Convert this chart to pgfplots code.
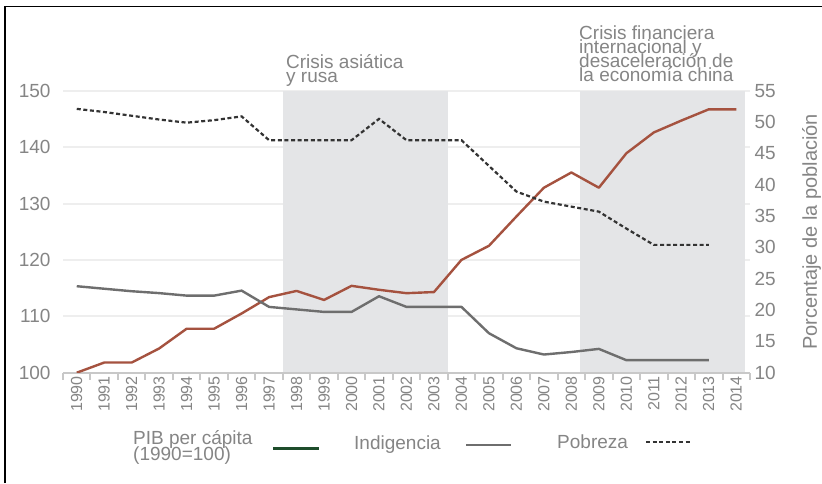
\documentclass[border=0pt]{standalone}
\usepackage{pgfplots}
\pgfplotsset{compat=1.18}
\usepackage{fontspec}
\setmainfont{Liberation Sans}
\definecolor{pibred}{HTML}{A5523F}
\definecolor{indgray}{HTML}{6E6E6E}
\definecolor{pobdark}{HTML}{333333}
\definecolor{shade}{HTML}{E4E5E7}
\definecolor{gridgray}{HTML}{EEEEEE}
\definecolor{axisgray}{HTML}{C8C8C8}
\definecolor{txtgray}{HTML}{858585}
\definecolor{leggreen}{HTML}{1E4D2B}
\newcommand\bigfont{\fontsize{19}{19}\selectfont}
\newcommand\yearfont{\fontsize{16}{16}\selectfont}

\pgfplotstableread{
year pib
1990 100
1991 101.8
1992 101.8
1993 104.3
1994 107.8
1995 107.8
1996 110.5
1997 113.4
1998 114.5
1999 112.9
2000 115.4
2001 114.7
2002 114.1
2003 114.3
2004 120.0
2005 122.5
2006 127.7
2007 132.8
2008 135.5
2009 132.8
2010 138.9
2011 142.6
2012 144.7
2013 146.7
2014 146.7
}\pibtable

\pgfplotstableread{
year ind pob
1990 23.8 52.1
1991 23.4 51.6
1992 23.0 51.0
1993 22.7 50.4
1994 22.3 49.9
1995 22.3 50.3
1996 23.1 50.9
1997 20.5 47.1
1998 20.1 47.1
1999 19.7 47.1
2000 19.7 47.1
2001 22.2 50.5
2002 20.5 47.1
2003 20.5 47.1
2004 20.5 47.1
2005 16.3 43.0
2006 13.9 38.9
2007 12.9 37.3
2008 13.3 36.5
2009 13.8 35.7
2010 12.0 33.0
2011 12.0 30.4
2012 12.0 30.4
2013 12.0 30.4
}\pcttable

\begin{document}
\begin{tikzpicture}
\useasboundingbox (0,0) rectangle (822pt,483pt);
\fill[white] (0,0) rectangle (822pt,483pt);
\draw[black, line width=1.5pt] (5pt,0) -- (5pt,476.5pt) -- (822pt,476.5pt);

\begin{axis}[
  at={(63pt,110.3pt)}, anchor=south west,
  scale only axis, width=687pt, height=282pt,
  xmin=1989.5, xmax=2014.5, ymin=100, ymax=150,
  axis x line*=bottom, axis y line*=left,
  axis line style={-},
  x axis line style={draw=axisgray, line width=2pt},
  y axis line style={draw=none},
  xtick={1990,...,2014},
  xticklabels={1990,1991,1992,1993,1994,1995,1996,1997,1998,1999,2000,2001,2002,2003,2004,2005,2006,2007,2008,2009,2010,2011,2012,2013,2014},
  minor xtick={1989.5,1990.5,...,2014.5},
  major tick length=0pt, minor tick length=7pt, tick align=outside,
  xtick style={draw=axisgray, line width=2pt},
  ytick={100,110,...,150},
  ytick style={draw=none},
  ymajorgrids, grid style={draw=gridgray, line width=2pt},
  /pgf/number format/assume math mode=true,
  xticklabel style={rotate=90, anchor=east, font=\yearfont, text=txtgray},
  yticklabel style={font=\bigfont, text=txtgray, xshift=-9pt},
  clip=true,
]
\addplot[fill=shade, draw=none, forget plot] coordinates {(1997.5,100.18) (2003.5,100.18) (2003.5,150) (1997.5,150)} -- cycle;
\addplot[fill=shade, draw=none, forget plot] coordinates {(2008.3,100.18) (2014.3,100.18) (2014.3,150) (2008.3,150)} -- cycle;
\addplot[pibred, line width=2.4pt, line join=round] table[x=year, y=pib] {\pibtable};
\end{axis}

\begin{axis}[
  at={(63pt,110.3pt)}, anchor=south west,
  scale only axis, width=687pt, height=282pt,
  xmin=1989.5, xmax=2014.5, ymin=10, ymax=55,
  axis x line=none, axis y line*=right,
  axis line style={draw=none},
  ytick={10,15,...,55},
  ytick style={draw=none},
  /pgf/number format/assume math mode=true,
  yticklabel style={font=\bigfont, text=txtgray, xshift=1pt},
  every axis y label/.style={at={(rel axis cs:1,0.5)}, xshift=61.5pt, rotate=90, anchor=center, font=\fontsize{20}{20}\selectfont, text=txtgray},
  ylabel={Porcentaje de la población},
]
\addplot[indgray, line width=2.4pt, line join=round] table[x=year, y=ind] {\pcttable};
\addplot[pobdark, line width=2.2pt, dash pattern=on 4pt off 2.6pt] table[x=year, y=pob] {\pcttable};
\end{axis}

% annotations
\begin{scope}[every node/.style={font=\bigfont, text=txtgray, inner sep=0pt, anchor=base west}]
\node at (286pt,414.7pt) {Crisis asiática};
\node at (286pt,400.7pt) {y rusa};
\node at (579pt,443.7pt) {Crisis financiera};
\node at (579pt,429.7pt) {internacional y};
\node at (579pt,415.3pt) {desaceleración de};
\node at (579pt,401.3pt) {la economía china};
% legend
\node at (133pt,39pt) {PIB per cápita};
\node at (133pt,23pt) {(1990=100)};
\node at (354pt,33.5pt) {Indigencia};
\node at (557pt,34.7pt) {Pobreza};
\end{scope}
\draw[leggreen, line width=2.6pt] (273pt,34.7pt) -- (319pt,34.7pt);
\draw[indgray, line width=2.6pt] (466pt,38pt) -- (511pt,38pt);
\draw[pobdark, line width=2.2pt, dash pattern=on 4pt off 2.6pt] (646pt,40.7pt) -- (692pt,40.7pt);
\end{tikzpicture}
\end{document}
